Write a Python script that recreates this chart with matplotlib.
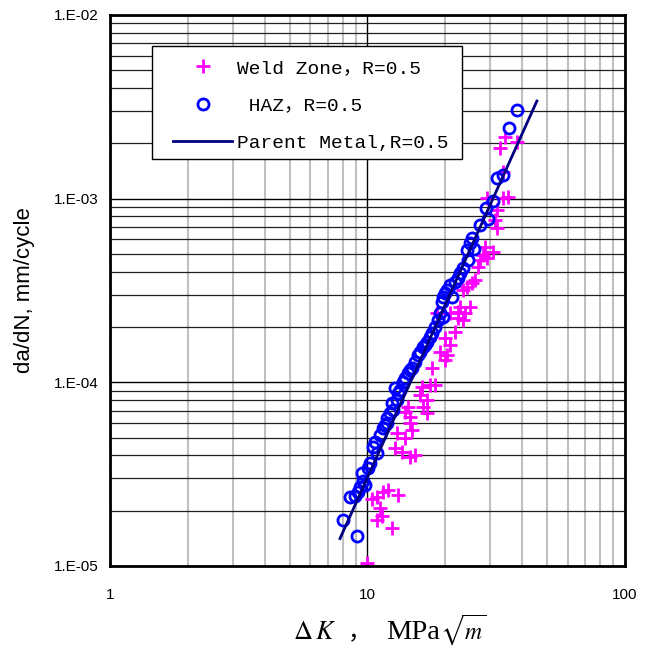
import matplotlib
matplotlib.use('Agg')
import matplotlib.pyplot as plt
from matplotlib.patches import Rectangle
from matplotlib.ticker import LogLocator, NullFormatter

# Weld Zone, R=0.5
weld_dk = [34.20, 32.70, 38.07, 33.59, 35.13, 33.59, 29.12, 31.84, 31.27, 31.84,
           28.60, 30.72, 28.09, 29.12, 27.35, 26.86, 26.15, 25.45, 24.34, 23.49,
           25.00, 22.87, 23.91, 20.91, 22.46, 18.62, 23.49, 22.46, 21.87, 20.00,
           20.91, 19.12, 20.36, 20.00, 17.80, 17.49, 16.28, 18.29, 15.99, 17.02,
           16.43, 14.36, 17.02, 14.62, 13.98, 14.62, 13.02, 14.89, 13.98, 12.79,
           13.61, 14.62, 15.29, 12.01, 11.48, 13.14, 10.89, 10.41, 11.18, 11.38,
           10.89, 12.45, 9.96]
weld_dadn = [2.16e-3, 1.88e-3, 2.03e-3, 1.39e-3, 1.02e-3, 1.01e-3, 1.01e-3, 8.65e-4, 7.63e-4, 6.91e-4,
             5.44e-4, 5.11e-4, 4.92e-4, 4.74e-4, 4.62e-4, 4.23e-4, 3.60e-4, 3.46e-4, 3.29e-4, 3.17e-4,
             2.56e-4, 2.56e-4, 2.38e-4, 2.38e-4, 2.23e-4, 2.38e-4, 2.18e-4, 2.41e-4, 1.87e-4, 1.74e-4,
             1.59e-4, 1.46e-4, 1.40e-4, 1.32e-4, 1.19e-4, 9.63e-5, 9.39e-5, 9.63e-5, 8.50e-5, 7.98e-5,
             7.31e-5, 7.31e-5, 6.78e-5, 6.45e-5, 6.86e-5, 5.98e-5, 5.27e-5, 5.47e-5, 4.95e-5, 4.37e-5,
             4.15e-5, 3.90e-5, 4.00e-5, 2.58e-5, 2.52e-5, 2.42e-5, 2.36e-5, 2.33e-5, 2.08e-5, 1.88e-5,
             1.77e-5, 1.60e-5, 1.04e-5]

# HAZ, R=0.5
haz_dk = [38.07, 35.44, 33.59, 31.84, 30.72, 28.86, 29.38, 27.35, 25.45, 25.00,
          25.92, 24.34, 24.56, 23.49, 22.87, 22.46, 21.87, 20.91, 20.36, 20.00,
          19.65, 21.29, 19.47, 19.12, 19.65, 18.79, 18.29, 17.80, 17.49, 17.02,
          16.72, 16.43, 15.99, 15.71, 15.29, 14.89, 14.62, 14.36, 13.98, 13.74,
          13.37, 13.14, 12.79, 13.02, 12.45, 12.56, 12.23, 11.90, 11.90, 11.70,
          11.48, 11.18, 10.69, 10.50, 10.89, 10.23, 10.04, 9.52, 9.60, 9.78,
          9.35, 9.19, 8.94, 8.55, 8.03, 9.10]
haz_dadn = [3.03e-3, 2.42e-3, 1.34e-3, 1.29e-3, 9.69e-4, 8.87e-4, 7.73e-4, 7.17e-4, 6.09e-4, 5.72e-4,
            5.31e-4, 5.24e-4, 4.62e-4, 4.18e-4, 3.93e-4, 3.69e-4, 3.51e-4, 3.38e-4, 3.17e-4, 3.05e-4,
            2.90e-4, 2.90e-4, 2.73e-4, 2.38e-4, 2.26e-4, 2.18e-4, 1.99e-4, 1.85e-4, 1.76e-4, 1.65e-4,
            1.59e-4, 1.55e-4, 1.46e-4, 1.40e-4, 1.29e-4, 1.19e-4, 1.16e-4, 1.12e-4, 1.05e-4, 1.00e-4,
            9.05e-5, 8.71e-5, 9.28e-5, 7.98e-5, 7.69e-5, 7.04e-5, 6.78e-5, 6.36e-5, 5.98e-5, 5.83e-5,
            5.61e-5, 5.14e-5, 4.71e-5, 4.42e-5, 4.10e-5, 3.62e-5, 3.40e-5, 3.19e-5, 2.92e-5, 2.75e-5,
            2.68e-5, 2.52e-5, 2.39e-5, 2.36e-5, 1.79e-5, 1.45e-5]

# Parent Metal, R=0.5 (fit line end points)
pm_dk = [7.82, 45.5]
pm_dadn = [1.41e-5, 3.40e-3]

xticks = [1, 10, 100]
xtick_labels = ['1', '10', '100']
yticks = [1e-5, 1e-4, 1e-3, 1e-2]
ytick_labels = ['1.E-05', '1.E-04', '1.E-03', '1.E-02']

plt.rcParams['mathtext.fontset'] = 'stix'

fig = plt.figure(figsize=(6.53, 6.55), dpi=100)
ax = fig.add_axes([0.1685, 0.1359, 0.7885, 0.8412])
ax.set_xscale('log')
ax.set_yscale('log')
ax.set_xlim(1, 100)
ax.set_ylim(1e-5, 1e-2)

# grid
ax.xaxis.set_minor_locator(LogLocator(base=10, subs=range(2, 10)))
ax.yaxis.set_minor_locator(LogLocator(base=10, subs=range(2, 10)))
ax.xaxis.set_minor_formatter(NullFormatter())
ax.yaxis.set_minor_formatter(NullFormatter())
ax.grid(True, which='major', axis='both', color='black', lw=1.0)
ax.grid(True, which='minor', axis='x', color='#c0c0c0', lw=1.5)
ax.grid(True, which='minor', axis='y', color='#202020', lw=0.9)
ax.set_axisbelow(True)

ax.plot(weld_dk, weld_dadn, '+', color='#ff00ff', ms=10, mew=2, ls='none',
        label='Weld Zone，R=0.5')
ax.plot(haz_dk, haz_dadn, 'o', mfc='none', mec='#0000ff', ms=8, mew=2, ls='none',
        label=' HAZ，R=0.5')
ax.plot(pm_dk, pm_dadn, '-', color='#000080', lw=2, label='Parent Metal,R=0.5')

ax.set_xticks(xticks)
ax.set_xticklabels(xtick_labels)
ax.set_yticks(yticks)
ax.set_yticklabels(ytick_labels)
ax.tick_params(which='both', length=0)
ax.tick_params(axis='x', pad=16)
ax.tick_params(axis='y', pad=8)
for lab in ax.get_xticklabels() + ax.get_yticklabels():
    lab.set_family('Liberation Sans')
    lab.set_fontsize(11)

for s in ax.spines.values():
    s.set_linewidth(2)
    s.set_color('black')

ax.set_ylabel('da/dN, mm/cycle', family='Liberation Sans', fontsize=16)
ax.yaxis.set_label_coords(-0.146, 0.5)

# x label in pieces (the full-width comma needs a CJK font)
ax.text(0.355, -0.1325, r'$\Delta\,K$', transform=ax.transAxes, fontsize=19,
        ha='left', va='baseline')
ax.text(0.462, -0.1325, '，', transform=ax.transAxes, fontsize=17,
        family=['Noto Sans CJK SC'], ha='left', va='baseline')
ax.text(0.536, -0.1325, 'MPa', transform=ax.transAxes, fontsize=20.5,
        family='Liberation Serif', ha='left', va='baseline')
ax.text(0.640, -0.1325, r'$\sqrt{m}$', transform=ax.transAxes, fontsize=17,
        ha='left', va='baseline')

# legend box
ax.add_patch(Rectangle((0.0816, 0.7387), 0.6019, 0.205, transform=ax.transAxes,
                       facecolor='white', edgecolor='black', lw=1, zorder=4))
leg = ax.legend(loc='upper left', bbox_to_anchor=(0.1223, 0.920), borderaxespad=0,
                frameon=False, handlelength=3.04, borderpad=0,
                handletextpad=0.26, labelspacing=1.03,
                prop={'family': ['Liberation Mono', 'Noto Sans CJK SC'], 'size': 14})
leg.set_zorder(5)

fig.savefig('out.png', dpi=100)
